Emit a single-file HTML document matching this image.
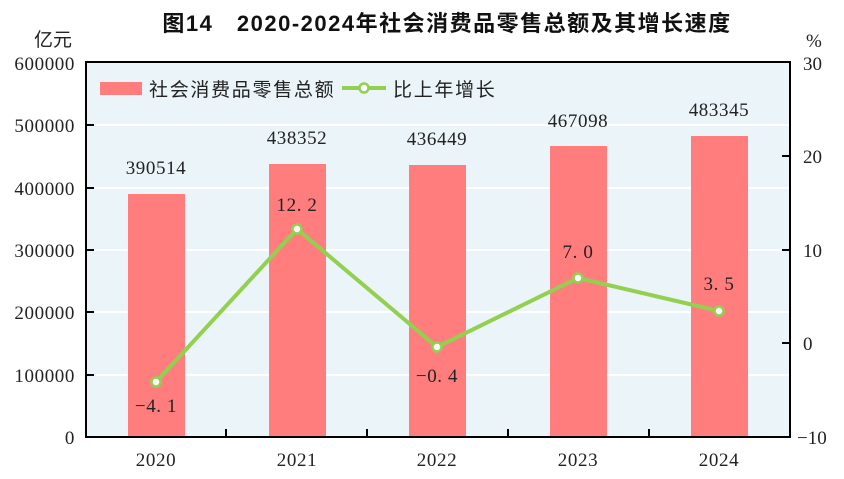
<!DOCTYPE html><html><head><meta charset="utf-8"><style>body{margin:0;background:#fff}svg{display:block}</style></head><body>
<svg width="844" height="479" xmlns="http://www.w3.org/2000/svg">
<text x="447" y="31" font-family="Liberation Sans,'Noto Sans CJK SC',sans-serif" font-size="22" font-weight="bold" letter-spacing="1.5" text-anchor="middle" fill="#111">图14　2020-2024年社会消费品零售总额及其增长速度</text>
<rect x="86" y="62" width="704" height="375" fill="#ebf4f8"/>
<g stroke="#fff" stroke-width="2">
<line x1="86" x2="790" y1="125" y2="125"/><line x1="86" x2="790" y1="188" y2="188"/><line x1="86" x2="790" y1="250" y2="250"/><line x1="86" x2="790" y1="312" y2="312"/><line x1="86" x2="790" y1="375" y2="375"/></g>
<g fill="#ff7d7d">
<rect x="128" y="194" width="57" height="243"/><rect x="269" y="164" width="57" height="273"/><rect x="409" y="165" width="57" height="272"/><rect x="550" y="146" width="57" height="291"/><rect x="691" y="136" width="57" height="301"/></g>
<rect x="86" y="62" width="704" height="375" fill="none" stroke="#000" stroke-width="2"/>
<g stroke="#000" stroke-width="2">
<line x1="86" x2="94" y1="125" y2="125"/><line x1="86" x2="94" y1="188" y2="188"/><line x1="86" x2="94" y1="250" y2="250"/><line x1="86" x2="94" y1="312" y2="312"/><line x1="86" x2="94" y1="375" y2="375"/>
<line x1="782" x2="790" y1="156" y2="156"/><line x1="782" x2="790" y1="250" y2="250"/><line x1="782" x2="790" y1="343" y2="343"/>
<line x1="226" x2="226" y1="429" y2="437"/><line x1="367" x2="367" y1="429" y2="437"/><line x1="508" x2="508" y1="429" y2="437"/><line x1="649" x2="649" y1="429" y2="437"/></g>
<g font-family="Liberation Serif,serif" font-size="19" letter-spacing="0.6" fill="#222" text-anchor="end">
<text x="75" y="70">600000</text><text x="75" y="132">500000</text><text x="75" y="195">400000</text><text x="75" y="257">300000</text><text x="75" y="319">200000</text><text x="75" y="382">100000</text><text x="75" y="444">0</text></g>
<text x="72" y="46" font-family="Liberation Sans,'Noto Sans CJK SC',sans-serif" font-size="19" fill="#222" text-anchor="end">亿元</text>
<g font-family="Liberation Serif,serif" font-size="19" fill="#222">
<text x="803" y="70">30</text><text x="803" y="163">20</text><text x="803" y="257">10</text><text x="803" y="350">0</text><text x="797" y="444">−10</text>
<text x="806" y="47">%</text></g>
<g font-family="Liberation Serif,serif" font-size="19" letter-spacing="0.6" fill="#222" text-anchor="middle">
<text x="156" y="466">2020</text><text x="297" y="466">2021</text><text x="437" y="466">2022</text><text x="578" y="466">2023</text><text x="719" y="466">2024</text>
<text x="156" y="174">390514</text><text x="297" y="144">438352</text><text x="437" y="145">436449</text><text x="578" y="127">467098</text><text x="719" y="116">483345</text>
<text x="156" y="412">−4. 1</text><text x="297" y="211">12. 2</text><text x="437" y="382">−0. 4</text><text x="578" y="258">7. 0</text><text x="719" y="290">3. 5</text></g>
<polyline points="156,382 297,229 437,347 578,278 719,311" fill="none" stroke="#92d050" stroke-width="4"/>
<g fill="#fff" stroke="#92d050" stroke-width="2.5">
<circle cx="156" cy="382" r="4.5"/><circle cx="297" cy="229" r="4.5"/><circle cx="437" cy="347" r="4.5"/><circle cx="578" cy="278" r="4.5"/><circle cx="719" cy="311" r="4.5"/></g>
<rect x="100" y="82" width="42" height="13" fill="#ff7d7d"/>
<g font-family="Liberation Sans,'Noto Sans CJK SC',sans-serif" font-size="19" letter-spacing="1.7" fill="#222">
<text x="149" y="96">社会消费品零售总额</text><text x="393" y="96">比上年增长</text></g>
<line x1="342" x2="386" y1="88" y2="88" stroke="#92d050" stroke-width="4"/>
<circle cx="364" cy="88" r="4.5" fill="#fff" stroke="#92d050" stroke-width="2.5"/>
</svg></body></html>
